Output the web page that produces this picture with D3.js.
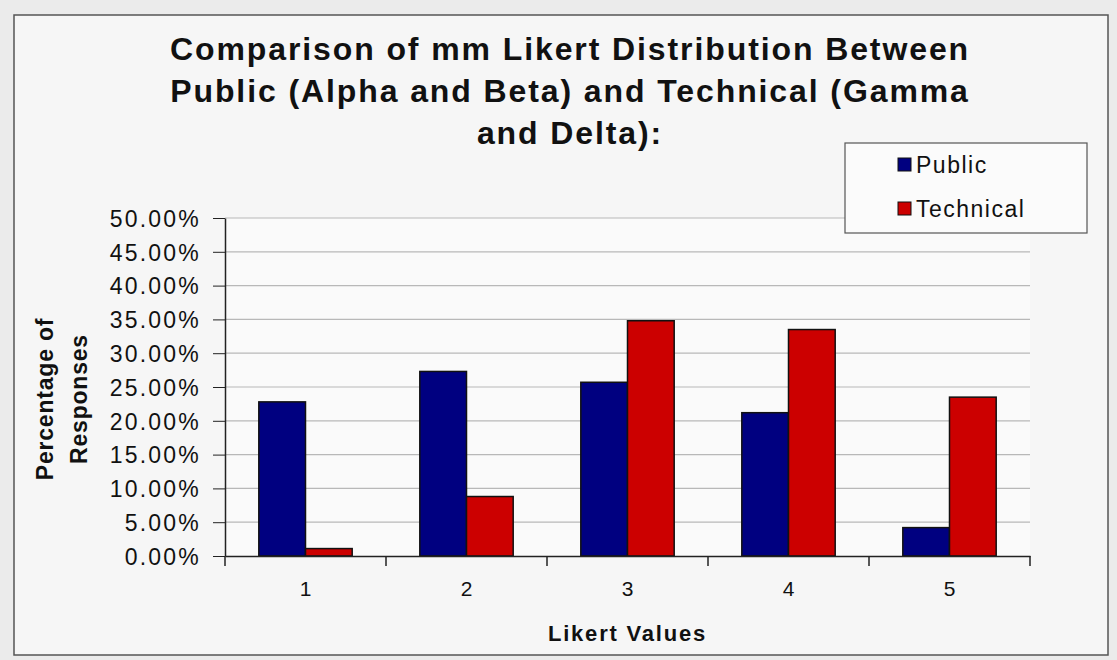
<!DOCTYPE html>
<html>
<head>
<meta charset="utf-8">
<script src="https://cdn.jsdelivr.net/npm/d3@7"></script>
<style>
  body { margin: 0; background: #ebebeb; }
  svg { display: block; font-family: Arial, "Liberation Sans", sans-serif; }
</style>
</head>
<body>
<svg id="chart"></svg>
<script>
// Chart data
const categories = ["1", "2", "3", "4", "5"];
const seriesNames = ["Public", "Technical"];
const publicValues = [0.228, 0.273, 0.257, 0.212, 0.042];
const technicalValues = [0.011, 0.088, 0.348, 0.335, 0.235];
const yTicks = [0, 0.05, 0.1, 0.15, 0.2, 0.25, 0.3, 0.35, 0.4, 0.45, 0.5];
const titleLines = [
  "Comparison of mm Likert Distribution Between",
  "Public (Alpha and Beta) and Technical (Gamma",
  "and Delta):"
];

const width = 1117;
const height = 660;
const colors = { Public: "#000080", Technical: "#cc0000" };

const svg = d3.select("#chart").attr("width", width).attr("height", height);

// Chart frame
svg.append("rect")
  .attr("x", 14).attr("y", 15)
  .attr("width", 1094).attr("height", 640)
  .attr("fill", "#f6f6f6")
  .attr("stroke", "#555").attr("stroke-width", 1.5);

const margin = { left: 225, right: 87, top: 218, bottom: 104 };
const plotW = width - margin.left - margin.right;
const plotH = height - margin.top - margin.bottom;

const g = svg.append("g").attr("transform", `translate(${margin.left},${margin.top})`);

const x = d3.scaleBand().domain(categories).range([0, plotW]).paddingInner(0.42).paddingOuter(0.21);
const xs = d3.scaleBand().domain(seriesNames).range([0, x.bandwidth()]);
const y = d3.scaleLinear().domain([0, 0.5]).range([plotH, 0]);

// Plot background
g.append("rect").attr("width", plotW).attr("height", plotH).attr("fill", "#fafafa");

// Gridlines
g.append("g")
  .selectAll("line")
  .data(yTicks.slice(1))
  .join("line")
  .attr("x1", 0).attr("x2", plotW)
  .attr("y1", d => y(d)).attr("y2", d => y(d))
  .attr("stroke", "#b8b8b8").attr("stroke-width", 1.2);

// Bars
const rows = categories.map((c, i) => ({ cat: c, Public: publicValues[i], Technical: technicalValues[i] }));
g.append("g")
  .selectAll("g")
  .data(rows)
  .join("g")
  .attr("transform", d => `translate(${x(d.cat)},0)`)
  .selectAll("rect")
  .data(d => seriesNames.map(s => ({ s, v: d[s] })))
  .join("rect")
  .attr("x", d => xs(d.s))
  .attr("width", xs.bandwidth())
  .attr("y", d => y(d.v))
  .attr("height", d => plotH - y(d.v))
  .attr("fill", d => colors[d.s])
  .attr("stroke", "#111").attr("stroke-width", 1.5);

// Y axis
const yAxis = g.append("g")
  .call(d3.axisLeft(y).tickValues(yTicks).tickFormat(d3.format(".2%")).tickSize(12).tickSizeOuter(0));
yAxis.select(".domain").attr("stroke", "#222").attr("stroke-width", 1.5);
yAxis.selectAll(".tick line").attr("stroke", "#222");
yAxis.selectAll("text")
  .attr("font-size", 23).attr("letter-spacing", 2.2).attr("fill", "#111")
  .attr("x", -24).attr("dy", "0.36em");

// X axis
const xAxis = g.append("g")
  .attr("transform", `translate(0,${plotH})`)
  .call(d3.axisBottom(x).tickSize(0).tickSizeOuter(0));
xAxis.select(".domain").attr("stroke", "#222").attr("stroke-width", 1.5);
xAxis.selectAll("text").attr("font-size", 21).attr("fill", "#111").attr("dy", "1.75em");
// category boundary ticks
g.append("g")
  .selectAll("line")
  .data(d3.range(categories.length + 1))
  .join("line")
  .attr("x1", i => i * plotW / categories.length)
  .attr("x2", i => i * plotW / categories.length)
  .attr("y1", plotH).attr("y2", plotH + 10)
  .attr("stroke", "#222").attr("stroke-width", 1.5);

// Title
svg.append("text")
  .attr("x", 570).attr("y", 60)
  .attr("text-anchor", "middle")
  .attr("font-size", 32).attr("letter-spacing", 1.9)
  .attr("font-weight", "bold").attr("fill", "#111")
  .selectAll("tspan")
  .data(titleLines)
  .join("tspan")
  .attr("x", 570)
  .attr("dy", (d, i) => i === 0 ? 0 : 42)
  .text(d => d);

// Axis titles
svg.append("text")
  .attr("x", margin.left + plotW / 2).attr("y", 641)
  .attr("text-anchor", "middle")
  .attr("font-size", 22).attr("letter-spacing", 1.8)
  .attr("font-weight", "bold").attr("fill", "#111")
  .text("Likert Values");

svg.append("text")
  .attr("transform", "translate(53,399) rotate(-90)")
  .attr("text-anchor", "middle")
  .attr("font-size", 23).attr("letter-spacing", 0.8)
  .attr("font-weight", "bold").attr("fill", "#111")
  .selectAll("tspan")
  .data(["Percentage of", "Responses"])
  .join("tspan")
  .attr("x", 0)
  .attr("dy", (d, i) => i === 0 ? 0 : 34)
  .text(d => d);

// Legend
const legend = svg.append("g").attr("transform", "translate(845,143)");
legend.append("rect")
  .attr("width", 242).attr("height", 90)
  .attr("fill", "#fbfbfb").attr("stroke", "#555").attr("stroke-width", 1.2);
const items = legend.selectAll("g.item")
  .data(seriesNames)
  .join("g")
  .attr("class", "item")
  .attr("transform", (d, i) => `translate(53,${22 + i * 44})`);
items.append("rect")
  .attr("width", 13).attr("height", 13).attr("y", -7)
  .attr("fill", d => colors[d]).attr("stroke", "#111");
items.append("text")
  .attr("x", 18).attr("dy", "0.36em")
  .attr("font-size", 23).attr("letter-spacing", 1.5).attr("fill", "#111")
  .text(d => d);
</script>
</body>
</html>
